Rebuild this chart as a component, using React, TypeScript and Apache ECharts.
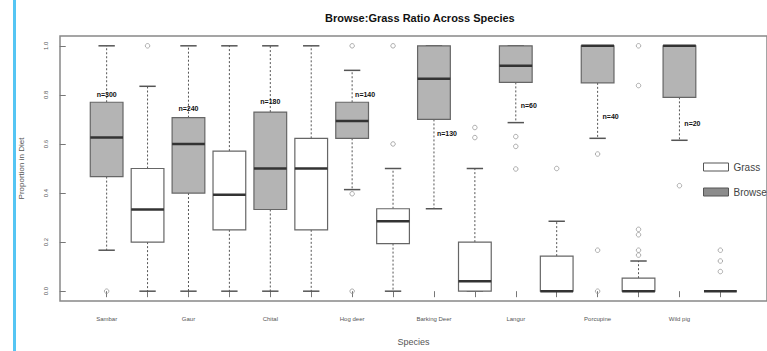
import React, { useEffect, useRef } from "react";
import * as echarts from "echarts";

const species = ["Sambar", "Gaur", "Chital", "Hog deer", "Barking Deer", "Langur", "Porcupine", "Wild pig"];
const sampleSizes = [300, 240, 180, 140, 130, 60, 40, 20];

// [lower whisker, Q1, median, Q3, upper whisker]
const browseStats = [
  [0.167, 0.467, 0.626, 0.77, 1.0],
  [0.0, 0.4, 0.6, 0.707, 1.0],
  [0.0, 0.333, 0.5, 0.73, 1.0],
  [0.414, 0.623, 0.694, 0.77, 0.9],
  [0.336, 0.7, 0.866, 1.0, 1.0],
  [0.687, 0.851, 0.919, 1.0, 1.0],
  [0.623, 0.849, 1.0, 1.0, 1.0],
  [0.615, 0.79, 1.0, 1.0, 1.0],
];
const grassStats = [
  [0.0, 0.2, 0.333, 0.5, 0.835],
  [0.0, 0.25, 0.393, 0.571, 1.0],
  [0.0, 0.25, 0.5, 0.623, 1.0],
  [0.0, 0.194, 0.285, 0.336, 0.5],
  [0.0, 0.0, 0.04, 0.2, 0.5],
  [0.0, 0.0, 0.0, 0.143, 0.285],
  [0.0, 0.0, 0.0, 0.053, 0.123],
  [0.0, 0.0, 0.0, 0.0, 0.0],
];
const browseOutliers = [[0.0], [], [], [1.0, 0.397, 0.0], [], [0.63, 0.59, 0.498], [0.559, 0.167, 0.0], [0.43]];
const grassOutliers = [[1.0], [], [], [1.0, 0.6], [0.667, 0.626], [0.5], [1.0, 0.838, 0.252, 0.23, 0.167, 0.147], [0.167, 0.123, 0.08]];
// height at which each sample-size note sits
const nLabelLevels = [0.8, 0.745, 0.773, 0.8, 0.644, 0.757, 0.713, 0.684];
const yTicks = [0, 0.2, 0.4, 0.6, 0.8, 1.0];

const browsePos = (i: number) => 2 * i + 1;
const grassPos = (i: number) => 2 * i + 2;

function boxRenderer(fill: string) {
  return (params: any, api: any) => {
    const x = api.value(0);
    const lo = api.value(1);
    const q1 = api.value(2);
    const med = api.value(3);
    const q3 = api.value(4);
    const hi = api.value(5);
    const halfW = api.size([0.8, 0])[0] / 2;
    const capHalf = halfW / 2;
    const pLo = api.coord([x, lo]);
    const pQ1 = api.coord([x, q1]);
    const pMed = api.coord([x, med]);
    const pQ3 = api.coord([x, q3]);
    const pHi = api.coord([x, hi]);
    const cx = pMed[0];
    const whisker = { stroke: "#555", lineWidth: 1, lineDash: [2, 2] };
    const cap = { stroke: "#555", lineWidth: 1.5 };
    return {
      type: "group",
      children: [
        { type: "line", shape: { x1: cx, y1: pQ3[1], x2: cx, y2: pHi[1] }, style: whisker },
        { type: "line", shape: { x1: cx, y1: pQ1[1], x2: cx, y2: pLo[1] }, style: whisker },
        { type: "line", shape: { x1: cx - capHalf, y1: pHi[1], x2: cx + capHalf, y2: pHi[1] }, style: cap },
        { type: "line", shape: { x1: cx - capHalf, y1: pLo[1], x2: cx + capHalf, y2: pLo[1] }, style: cap },
        {
          type: "rect",
          shape: { x: cx - halfW, y: pQ3[1], width: 2 * halfW, height: pQ1[1] - pQ3[1] },
          style: { fill, stroke: "#666", lineWidth: 1.2 },
        },
        { type: "line", shape: { x1: cx - halfW, y1: pMed[1], x2: cx + halfW, y2: pMed[1] }, style: { stroke: "#333", lineWidth: 2.5 } },
      ],
    };
  };
}

// sample-size notes, drawn as plain text at a data position
function noteRenderer(params: any, api: any) {
  const i = params.dataIndex;
  const p = api.coord([api.value(0), api.value(1)]);
  return {
    type: "text",
    x: p[0] + (i < 3 ? 0 : 13),
    y: p[1],
    style: {
      text: `n=${sampleSizes[i]}`,
      fill: "#111",
      font: "bold 7px Liberation Sans, Arial, sans-serif",
      align: "center",
      verticalAlign: "middle",
    },
  };
}

function outlierPoints(list: number[][], pos: (i: number) => number) {
  const out: number[][] = [];
  list.forEach((vals, i) => vals.forEach((v) => out.push([pos(i), v])));
  return out;
}

export default function App() {
  const ref = useRef<HTMLDivElement>(null);

  useEffect(() => {
    if (!ref.current) return;
    const chart = echarts.init(ref.current, null, { renderer: "svg" });
    const font = "Liberation Sans, Arial, sans-serif";

    const option: any = {
      animation: false,
      backgroundColor: "#fff",
      textStyle: { fontFamily: font },
      title: {
        text: "Browse:Grass Ratio Across Species",
        left: 320,
        top: 7,
        textStyle: { fontSize: 11, fontWeight: "bold", color: "#111", fontFamily: font },
      },
      legend: {
        orient: "vertical",
        left: 698,
        top: 157,
        itemWidth: 25,
        itemHeight: 8,
        itemGap: 15,
        icon: "rect",
        textStyle: { fontSize: 10, color: "#444", fontFamily: font },
        data: [
          { name: "Grass", itemStyle: { color: "#ffffff", borderColor: "#555", borderWidth: 1 } },
          { name: "Browse", itemStyle: { color: "#8c8c8c", borderColor: "#555", borderWidth: 1 } },
        ],
      },
      grid: {
        left: 60,
        top: 36,
        right: -14,
        bottom: 48,
        show: true,
        borderColor: "#888",
        borderWidth: 1.5,
      },
      xAxis: {
        type: "value",
        min: -0.14,
        max: 17.14,
        splitLine: { show: false },
        axisLine: { show: false },
        axisTick: {
          show: true,
          length: 6,
          customValues: species.flatMap((_, i) => [browsePos(i), grassPos(i)]),
          lineStyle: { color: "#777" },
        },
        axisLabel: {
          customValues: species.map((_, i) => browsePos(i)),
          formatter: (v: number) => species[Math.round((v - 1) / 2)] ?? "",
          fontSize: 6,
          color: "#555",
          margin: 15,
        },
        name: "Species",
        nameLocation: "middle",
        nameGap: 36,
        nameTextStyle: { fontSize: 9, color: "#555" },
      },
      yAxis: {
        type: "value",
        min: -0.04,
        max: 1.04,
        splitLine: { show: false },
        axisLine: { show: false },
        axisTick: { show: true, length: 6, customValues: yTicks, lineStyle: { color: "#777" } },
        axisLabel: {
          customValues: yTicks,
          formatter: (v: number) => v.toFixed(1),
          rotate: 90,
          fontSize: 6,
          color: "#555",
          margin: 11,
        },
        name: "Proportion in Diet",
        nameLocation: "middle",
        nameGap: 35,
        nameRotate: 90,
        nameTextStyle: { fontSize: 8, color: "#555" },
      },
      graphic: [
        { type: "rect", left: 13, top: 0, shape: { width: 3, height: 351 }, style: { fill: "#55c5f3" } },
      ],
      series: [
        {
          name: "Browse",
          type: "custom",
          renderItem: boxRenderer("#b4b4b4"),
          itemStyle: { color: "#8c8c8c" },
          encode: { x: 0, y: [1, 2, 3, 4, 5] },
          data: browseStats.map((s, i) => [browsePos(i), ...s]),
          z: 3,
        },
        {
          name: "Grass",
          type: "custom",
          renderItem: boxRenderer("#ffffff"),
          itemStyle: { color: "#ffffff" },
          encode: { x: 0, y: [1, 2, 3, 4, 5] },
          data: grassStats.map((s, i) => [grassPos(i), ...s]),
          z: 3,
        },
        {
          name: "Browse outliers",
          type: "scatter",
          symbol: "circle",
          symbolSize: 4.5,
          itemStyle: { color: "rgba(0,0,0,0)", borderColor: "#999", borderWidth: 1 },
          data: outlierPoints(browseOutliers, browsePos),
          z: 4,
        },
        {
          name: "Grass outliers",
          type: "scatter",
          symbol: "circle",
          symbolSize: 4.5,
          itemStyle: { color: "rgba(0,0,0,0)", borderColor: "#999", borderWidth: 1 },
          data: outlierPoints(grassOutliers, grassPos),
          z: 4,
        },
        {
          name: "Sample size",
          type: "custom",
          renderItem: noteRenderer,
          encode: { x: 0, y: 1 },
          data: nLabelLevels.map((v, i) => [browsePos(i), v]),
          z: 5,
        },
      ],
    };

    chart.setOption(option);
    return () => chart.dispose();
  }, []);

  return (
    <div
      ref={ref}
      style={{ position: "fixed", left: 0, top: 0, width: 767, height: 351, background: "#fff" }}
    />
  );
}
